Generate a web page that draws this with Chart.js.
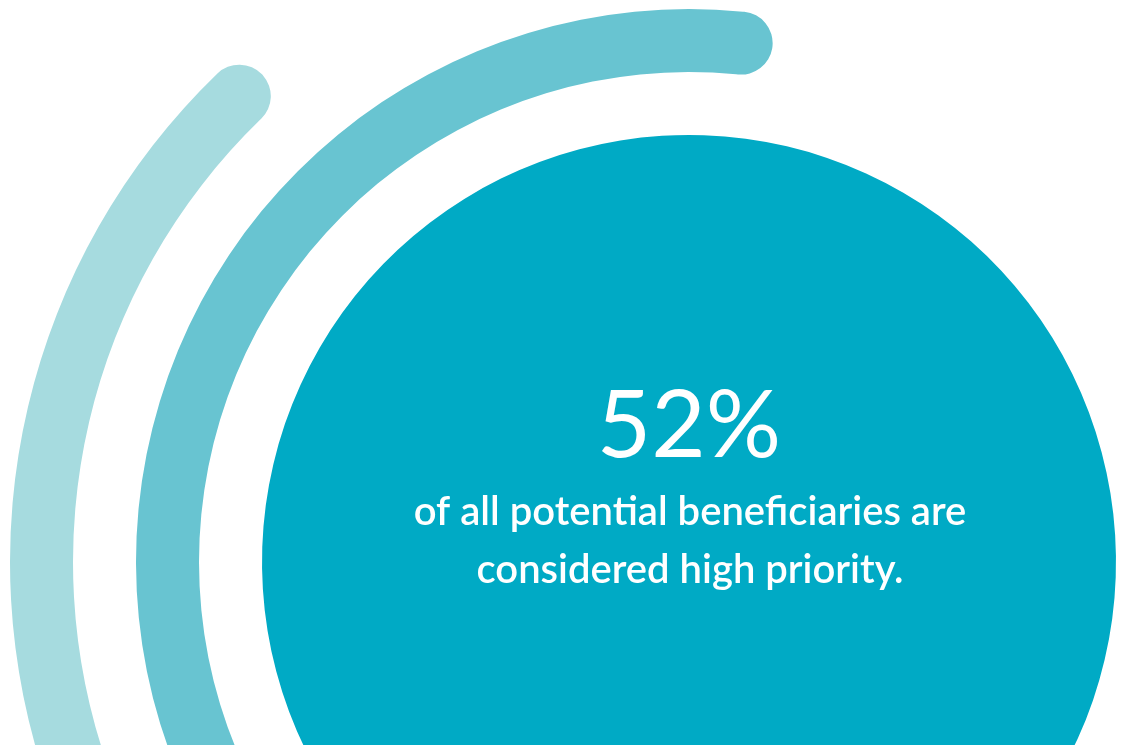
<!DOCTYPE html>
<html>
<head>
<meta charset="utf-8">
<title>High priority beneficiaries</title>
<script src="https://cdn.jsdelivr.net/npm/chart.js@4/dist/chart.umd.min.js"></script>
<style>
  html, body { margin: 0; padding: 0; background: #fff; overflow: hidden; }
  /* the rings are larger than the window, the lower part runs off the page */
  .ring-wrap { position: absolute; left: 0; top: 0; width: 1378px; height: 1124px; }
</style>
</head>
<body>
<div class="ring-wrap"><canvas id="priorityChart"></canvas></div>
<script>
const sliceLabels = ['Share', 'Rest'];
const outerValues = [38, 62];
const middleValues = [52, 48];
const coreValues = [100];
const captionLines = ['of all potential beneficiaries are', 'considered high priority.'];

const headline = middleValues[0] + '%';

/* Caption in the middle of the solid disc */
const captionPlugin = {
    id: 'centerCaption',
    afterDraw(chart) {
        const { ctx } = chart;
        const disc = chart.getDatasetMeta(4).data[0];
        const cx = disc.x;
        const cy = disc.y;
        ctx.save();
        ctx.fillStyle = '#ffffff';
        ctx.textAlign = 'center';
        ctx.textBaseline = 'alphabetic';
        ctx.font = '400 94px Lato';
        ctx.fillText(headline, cx, cy - 105);
        ctx.font = '600 40px Lato';
        captionLines.forEach((line, i) => ctx.fillText(line, cx + 1, cy - 37 + i * 58));
        ctx.restore();
    },
};

const ctx = document.getElementById('priorityChart');

new Chart(ctx, {
    type: 'doughnut',
    data: {
        labels: sliceLabels,
        datasets: [
            { data: outerValues, backgroundColor: ['#a6dbdf', 'transparent'], borderRadius: 32, weight: 63 },
            { data: [1], backgroundColor: 'transparent', weight: 63 },
            { data: middleValues, backgroundColor: ['#68c4d1', 'transparent'], borderRadius: 32, weight: 63 },
            { data: [1], backgroundColor: 'transparent', weight: 63 },
            { data: coreValues, backgroundColor: '#00aac5', weight: 427 },
        ],
    },
    options: {
        responsive: true,
        maintainAspectRatio: false,
        animation: false,
        events: [],
        radius: 679,
        cutout: 0,
        rotation: 182,
        elements: { arc: { borderWidth: 0 } },
        plugins: {
            legend: { display: false },
            tooltip: { enabled: false },
        },
    },
    plugins: [captionPlugin],
});
</script>
</body>
</html>
